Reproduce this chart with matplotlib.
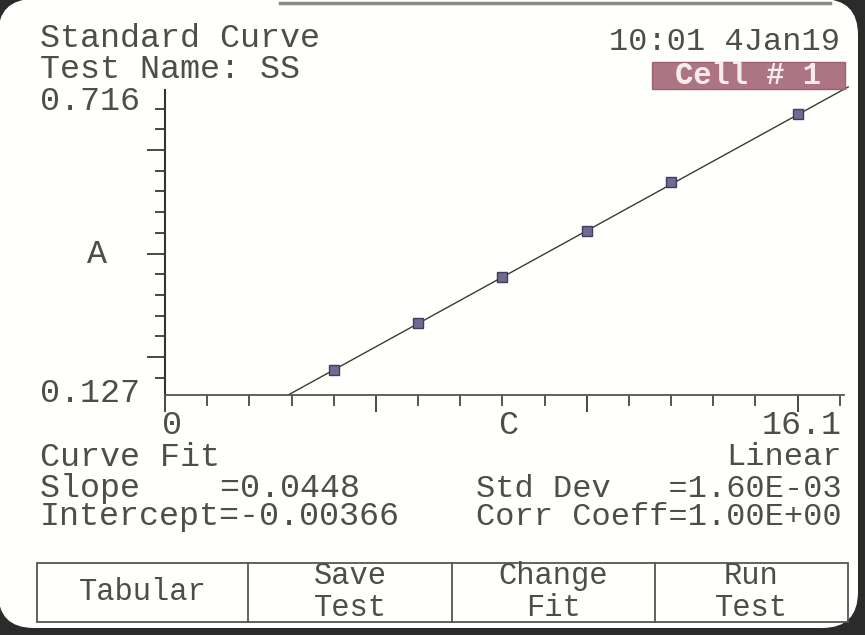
import numpy as np
import matplotlib.pyplot as plt
from matplotlib.patches import FancyBboxPatch, Rectangle
from matplotlib.ticker import MultipleLocator

# readings of the standard curve (concentration vs absorbance)
conc = [4, 6, 8, 10, 12, 15]
absorb = [0.175, 0.266, 0.355, 0.444, 0.538, 0.669]
fit_x = [2.92, 16.2]
fit_y = [0.127, 0.722]
x_max = 16.1
y_min, y_max = 0.127, 0.716

header = ["Standard Curve", "Test Name: SS"]
stamp = "10:01 4Jan19"
cell = "Cell # 1"
stats_left = ["Curve Fit", "Slope    =0.0448", "Intercept=-0.00366"]
stats_right = ["Linear", "Std Dev   =1.60E-03", "Corr Coeff=1.00E+00"]
buttons = ["Tabular", "Save\nTest", "Change\nFit", "Run\nTest"]

W, H = 865, 635
MONO = "Liberation Mono"
TXT = "#4d4d4d"

fig = plt.figure(figsize=(W / 100, H / 100), dpi=100, facecolor="#2b2b2b")


def fx(x):
    return x / W


def fy(y):
    return 1 - y / H


# screen area with rounded corners (pixel -> inches)
screen = FancyBboxPatch((-0.02, 0.07), 8.6, 6.29,
                        boxstyle="round,pad=0,rounding_size=0.36",
                        transform=fig.dpi_scale_trans,
                        facecolor="#fffffc", edgecolor="none", zorder=-5)
fig.add_artist(screen)
# thin bezel shadow along the top right
fig.add_artist(plt.Line2D([fx(280), fx(830)], [fy(3), fy(3)],
                          transform=fig.transFigure, color="#8a8a8a",
                          lw=2.5, zorder=-4))

ax = fig.add_axes([fx(165), fy(395), (844 - 165) / W, (395 - 90) / H])
ax.set_facecolor("none")
ax.plot(fit_x, fit_y, color="#3a3a3a", lw=1.0, clip_on=False)
ax.plot(conc, absorb, "s", ms=7, mfc="#706a92", mec="#3f3d5c", mew=1.0,
        clip_on=False)
ax.set_xlim(0, x_max)
ax.set_ylim(y_min, y_max)

for s in ["top", "right"]:
    ax.spines[s].set_visible(False)
ax.spines["left"].set_color("#333333")
ax.spines["left"].set_linewidth(1.5)
ax.spines["bottom"].set_color("#555555")
ax.spines["bottom"].set_linewidth(1.3)

ax.xaxis.set_major_locator(MultipleLocator(5))
ax.xaxis.set_minor_locator(MultipleLocator(1))
ax.yaxis.set_major_locator(MultipleLocator(0.2))
ax.yaxis.set_minor_locator(MultipleLocator(0.04))
ax.tick_params(which="both", direction="out", colors="#3a3a3a",
               labelbottom=False, labelleft=False)
ax.tick_params(axis="x", which="major", length=12, width=1.3)
ax.tick_params(axis="x", which="minor", length=8, width=1.2)
ax.tick_params(axis="y", which="major", length=13, width=1.3)
ax.tick_params(axis="y", which="minor", length=7, width=1.3)

# header
fig.text(fx(40), fy(47), header[0], family=MONO, fontsize=24, color=TXT)
fig.text(fx(40), fy(78), header[1], family=MONO, fontsize=24, color=TXT)
fig.text(fx(840), fy(50), stamp, family=MONO, fontsize=23, color=TXT,
         ha="right")
cell_box = Rectangle((fx(652), fy(89)), fx(845) - fx(652), fy(62) - fy(89),
                     transform=fig.transFigure, facecolor="#ad7584",
                     edgecolor="#9a6272", lw=1)
fig.add_artist(cell_box)
fig.text(fx(748), fy(76), cell, family=MONO, fontsize=22, color="#f6ecef",
         weight="bold", ha="center", va="center")

# axis labels
fig.text(fx(40), fy(101), "0.716", family=MONO, fontsize=24, color=TXT,
         va="center")
fig.text(fx(40), fy(393), "0.127", family=MONO, fontsize=24, color=TXT,
         va="center")
fig.text(fx(97), fy(255), "A", family=MONO, fontsize=24, color=TXT,
         ha="center", va="center")
fig.text(fx(172), fy(425), "0", family=MONO, fontsize=24, color=TXT,
         ha="center", va="center")
fig.text(fx(508), fy(425), "C", family=MONO, fontsize=24, color=TXT,
         ha="center", va="center")
fig.text(fx(842), fy(425), "16.1", family=MONO, fontsize=24, color=TXT,
         ha="right", va="center")

# fit statistics
rows_y = [457, 489, 517]
for t, y in zip(stats_left, rows_y):
    fig.text(fx(40), fy(y), t, family=MONO, fontsize=24, color=TXT,
             va="center")
for t, y in zip(stats_right, rows_y):
    fig.text(fx(842), fy(y), t, family=MONO, fontsize=23, color=TXT,
             ha="right", va="center")

# soft keys
edges = [37, 248, 452, 655, 848]
bar = Rectangle((fx(37), fy(622)), fx(848) - fx(37), fy(563) - fy(622),
                transform=fig.transFigure, facecolor="none",
                edgecolor="#555555", lw=1.3)
fig.add_artist(bar)
for e in edges[1:-1]:
    fig.add_artist(plt.Line2D([fx(e), fx(e)], [fy(563), fy(622)],
                              transform=fig.transFigure, color="#555555",
                              lw=1.3))
for i, b in enumerate(buttons):
    cx = (edges[i] + edges[i + 1]) / 2
    fig.text(fx(cx), fy(592), b, family=MONO, fontsize=22, color=TXT,
             ha="center", va="center", linespacing=1.05)

fig.savefig("out.png", dpi=100, facecolor=fig.get_facecolor())
